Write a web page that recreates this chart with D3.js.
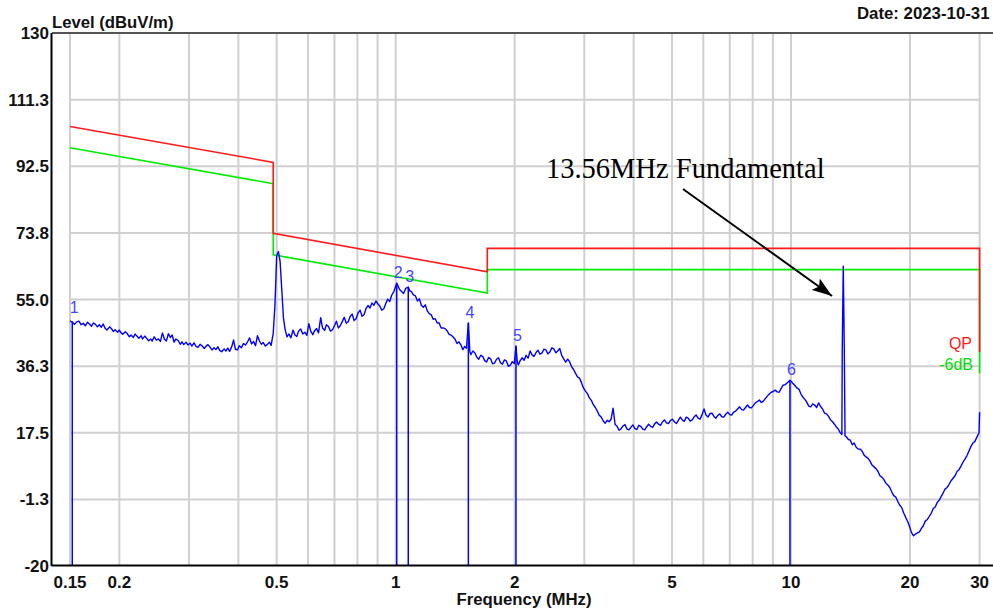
<!DOCTYPE html>
<html><head><meta charset="utf-8">
<script src="https://cdn.jsdelivr.net/npm/d3@7"></script>
<style>
html,body{margin:0;padding:0;background:#fff;overflow:hidden}
svg{display:block}
</style></head><body>
<svg id="chart" width="993" height="608"></svg>
<script>
// Measured spectrum: [frequency MHz, level dBuV/m]
const spectrum = [
  [0.150,49.0],[0.152,48.6],[0.154,48.0],[0.156,48.7],[0.158,48.9],[0.160,47.9],[0.162,48.3],[0.164,47.6],[0.166,48.6],[0.168,48.1],
  [0.170,47.5],[0.172,48.4],[0.174,48.0],[0.176,47.3],[0.178,47.9],[0.180,47.2],[0.182,48.1],[0.184,46.9],[0.186,46.4],[0.189,47.3],
  [0.191,46.8],[0.193,46.0],[0.195,46.5],[0.198,45.8],[0.200,46.4],[0.202,45.6],[0.204,45.2],[0.207,45.9],[0.209,45.5],[0.212,44.5],
  [0.214,45.0],[0.217,44.3],[0.219,45.3],[0.222,44.6],[0.224,44.1],[0.227,44.8],[0.229,43.9],[0.232,44.7],[0.234,44.2],[0.237,43.4],
  [0.240,43.9],[0.242,43.3],[0.245,44.5],[0.248,43.6],[0.251,43.9],[0.254,43.2],[0.257,45.6],[0.260,43.8],[0.263,43.3],[0.266,45.4],
  [0.269,44.3],[0.272,45.0],[0.275,43.0],[0.278,43.9],[0.282,43.4],[0.285,42.4],[0.288,43.1],[0.291,42.3],[0.295,43.0],[0.298,42.2],
  [0.302,42.7],[0.305,41.9],[0.309,42.8],[0.312,41.9],[0.316,41.5],[0.320,42.4],[0.324,41.9],[0.328,41.2],[0.331,41.8],[0.335,42.3],
  [0.339,41.6],[0.343,40.8],[0.347,41.4],[0.351,40.9],[0.355,41.7],[0.359,40.6],[0.363,40.3],[0.368,41.1],[0.372,40.5],[0.376,41.3],
  [0.380,40.4],[0.385,41.8],[0.389,43.6],[0.393,41.0],[0.398,40.8],[0.402,42.0],[0.407,41.4],[0.412,42.6],[0.417,42.2],[0.422,43.1],
  [0.427,44.2],[0.432,42.5],[0.437,43.2],[0.442,42.0],[0.447,44.8],[0.452,43.4],[0.457,42.4],[0.462,42.9],[0.468,41.9],[0.473,42.3],
  [0.479,43.0],[0.484,42.1],[0.490,45.5],[0.495,53.6],[0.500,67.4],[0.505,68.5],[0.510,65.7],[0.515,57.8],[0.520,49.9],[0.525,46.6],
  [0.531,44.5],[0.537,45.3],[0.543,44.2],[0.550,46.4],[0.556,45.0],[0.562,44.6],[0.568,46.1],[0.575,46.7],[0.582,45.3],[0.589,45.8],
  [0.596,44.9],[0.603,48.2],[0.610,46.0],[0.617,45.1],[0.624,46.3],[0.631,46.8],[0.638,45.6],[0.646,49.9],[0.653,47.0],[0.661,46.3],
  [0.668,47.9],[0.676,47.4],[0.684,46.1],[0.692,46.5],[0.700,47.6],[0.708,48.9],[0.716,47.0],[0.724,47.6],[0.732,48.7],[0.741,50.0],
  [0.750,48.3],[0.759,48.8],[0.767,50.2],[0.776,50.9],[0.785,49.1],[0.794,49.6],[0.803,51.2],[0.813,52.0],[0.822,50.3],[0.832,50.8],
  [0.841,52.4],[0.851,53.3],[0.861,52.6],[0.871,54.0],[0.881,53.4],[0.891,54.6],[0.901,53.8],[0.912,53.1],[0.922,52.0],[0.933,52.4],
  [0.944,53.9],[0.955,55.1],[0.966,54.4],[0.977,56.2],[0.990,57.3],[1.006,59.6],[1.023,57.8],[1.047,56.7],[1.060,58.1],[1.076,58.5],
  [1.086,57.4],[1.096,57.2],[1.109,56.3],[1.122,56.0],[1.135,54.6],[1.148,55.2],[1.161,53.4],[1.175,52.8],[1.188,53.5],[1.202,51.8],
  [1.216,51.0],[1.230,50.7],[1.245,49.4],[1.259,49.6],[1.274,48.4],[1.288,48.4],[1.303,47.0],[1.318,47.0],[1.334,46.8],[1.349,46.2],
  [1.365,45.2],[1.380,45.0],[1.396,44.5],[1.413,43.8],[1.429,42.6],[1.445,43.1],[1.462,42.2],[1.479,40.9],[1.495,41.8],[1.510,41.3],
  [1.527,48.4],[1.540,40.4],[1.549,39.5],[1.567,40.5],[1.585,40.0],[1.603,38.8],[1.622,38.2],[1.641,39.3],[1.660,39.0],[1.679,37.8],
  [1.698,37.4],[1.718,38.7],[1.738,38.3],[1.758,36.9],[1.778,37.1],[1.799,38.2],[1.820,38.6],[1.841,37.2],[1.862,36.8],[1.884,38.0],
  [1.905,37.7],[1.928,36.2],[1.950,36.5],[1.972,37.5],[1.995,37.0],[2.015,41.9],[2.030,37.6],[2.042,36.6],[2.065,37.8],[2.089,38.6],
  [2.113,37.9],[2.138,39.3],[2.163,38.5],[2.188,40.5],[2.213,39.4],[2.239,39.0],[2.265,40.1],[2.291,40.7],[2.317,39.6],[2.344,39.9],
  [2.371,41.0],[2.399,40.8],[2.427,39.7],[2.455,40.2],[2.483,41.4],[2.512,41.1],[2.541,40.0],[2.570,40.5],[2.600,41.2],[2.630,39.3],
  [2.661,38.3],[2.692,37.4],[2.723,38.2],[2.754,37.5],[2.786,36.1],[2.818,35.3],[2.851,34.2],[2.884,33.2],[2.917,32.9],[2.951,31.6],
  [2.985,30.1],[3.020,29.2],[3.055,28.5],[3.090,27.3],[3.126,26.6],[3.162,25.4],[3.199,24.6],[3.236,23.6],[3.273,22.4],[3.311,21.9],
  [3.350,20.8],[3.388,20.2],[3.428,21.0],[3.467,20.6],[3.507,21.3],[3.548,24.4],[3.590,19.8],[3.631,19.3],[3.673,18.2],[3.715,18.6],
  [3.758,19.4],[3.802,19.8],[3.846,18.6],[3.890,18.3],[3.935,19.0],[3.981,19.7],[4.027,18.7],[4.074,18.4],[4.121,19.6],[4.169,19.3],
  [4.217,18.5],[4.266,18.3],[4.315,19.2],[4.365,19.9],[4.416,19.3],[4.467,19.0],[4.519,20.0],[4.571,20.5],[4.624,19.9],[4.677,19.6],
  [4.732,20.6],[4.786,21.1],[4.842,20.3],[4.898,20.1],[4.955,21.0],[5.012,21.3],[5.070,20.6],[5.129,20.1],[5.188,21.0],[5.248,21.9],
  [5.309,21.1],[5.370,20.7],[5.433,21.9],[5.495,21.6],[5.559,20.8],[5.623,21.1],[5.689,22.0],[5.754,22.5],[5.821,21.6],[5.888,21.3],
  [5.957,22.6],[6.026,24.2],[6.095,22.5],[6.166,21.9],[6.237,22.9],[6.310,23.0],[6.383,22.1],[6.457,21.6],[6.531,22.4],[6.607,22.8],
  [6.683,22.0],[6.761,21.9],[6.839,22.7],[6.918,23.3],[6.998,22.6],[7.079,22.5],[7.161,23.3],[7.244,23.6],[7.328,24.2],[7.413,24.8],
  [7.499,24.0],[7.586,23.9],[7.674,24.6],[7.762,25.3],[7.852,24.6],[7.943,24.5],[8.035,25.2],[8.128,25.9],[8.222,26.3],[8.318,26.7],
  [8.414,26.0],[8.511,26.4],[8.610,27.1],[8.710,27.8],[8.810,28.4],[8.913,28.9],[9.016,29.1],[9.120,29.5],[9.226,29.0],[9.333,28.9],
  [9.441,29.9],[9.550,30.9],[9.660,31.0],[9.772,31.5],[9.940,32.3],[10.23,30.8],[10.35,30.1],[10.47,29.8],[10.60,28.4],[10.72,27.5],
  [10.84,26.9],[10.96,26.1],[11.09,25.0],[11.22,24.8],[11.35,25.6],[11.48,25.3],[11.61,24.6],[11.75,25.9],[11.88,24.9],[12.02,24.2],
  [12.16,23.0],[12.30,22.8],[12.45,22.1],[12.59,21.1],[12.74,20.6],[12.88,19.9],[13.03,19.1],[13.18,18.5],[13.30,17.6],[13.45,17.0],
  [13.48,41.2],[13.56,64.4],[13.64,41.2],[13.70,16.6],[13.80,16.4],[13.97,15.6],[14.13,15.4],[14.29,14.1],[14.45,14.6],[14.62,13.4],
  [14.79,12.9],[14.96,12.9],[15.14,12.3],[15.31,11.2],[15.49,10.7],[15.67,10.3],[15.85,9.5],[16.03,8.4],[16.22,7.9],[16.41,7.4],
  [16.60,6.6],[16.79,5.4],[16.98,5.0],[17.18,4.3],[17.38,3.3],[17.58,2.8],[17.78,2.1],[17.99,0.8],[18.20,-0.2],[18.41,-0.6],
  [18.62,-1.8],[18.84,-2.9],[19.05,-3.5],[19.27,-5.0],[19.50,-6.3],[19.72,-7.4],[19.95,-8.9],[20.18,-10.6],[20.42,-11.5],[20.65,-11.0],
  [20.89,-10.7],[21.13,-10.4],[21.38,-9.4],[21.63,-8.6],[21.88,-7.3],[22.13,-6.9],[22.39,-6.0],[22.65,-5.1],[22.91,-3.8],[23.17,-3.4],
  [23.44,-2.1],[23.71,-1.5],[23.99,-0.4],[24.27,0.6],[24.55,1.7],[24.83,2.1],[25.12,3.0],[25.41,4.0],[25.70,4.7],[26.00,5.4],
  [26.30,6.6],[26.61,7.1],[26.92,8.1],[27.23,9.2],[27.54,10.1],[27.86,11.0],[28.18,12.3],[28.51,13.6],[28.84,14.6],[29.17,15.0],
  [29.51,16.2],[29.90,17.5],[30.00,23.3]
];

// Peak markers
const markerFreq = [0.152, 1.006, 1.076, 1.527, 2.015, 9.94];
const markerLevel = [48.9, 59.6, 58.5, 48.4, 41.9, 32.3];
const markerLabel = ["1", "2", "3", "4", "5", "6"];

// Limit lines
const limitFreq = [0.15, 0.49, 0.49, 1.705, 1.705, 30, 30];
const limitQP   = [103.7, 93.6, 73.6, 62.8, 69.4, 69.4, 40.2];
const limit6dB  = [97.7, 87.6, 67.6, 56.8, 63.4, 63.4, 34.2];

// Axes
const yTicks = [-20, -1.25, 17.5, 36.25, 55, 73.75, 92.5, 111.25, 130];
const yTickLabels = ["-20", "-1.3", "17.5", "36.3", "55.0", "73.8", "92.5", "111.3", "130"];
const xTickValues = [0.15, 0.2, 0.5, 1, 2, 5, 10, 20, 30];
const xTickLabels = ["0.15", "0.2", "0.5", "1", "2", "5", "10", "20", "30"];
const xGridValues = [0.15, 0.2, 0.3, 0.4, 0.5, 0.6, 0.7, 0.8, 0.9, 1, 2, 3, 4, 5, 6, 7, 8, 9, 10, 20, 30];

const svg = d3.select("#chart");
const W = 993;
const frameLeft = 52, plotLeft = 70, plotRight = 979.6, plotTop = 33, plotBottom = 566;

const x = d3.scaleLog().domain([0.15, 30]).range([plotLeft, plotRight]);
const y = d3.scaleLinear().domain([-20, 130]).range([plotBottom, plotTop]);

const sans = "'Liberation Sans', Arial, sans-serif";

// Grid
const grid = svg.append("g").attr("stroke", "#d0d0d0").attr("stroke-width", 2);
grid.selectAll("line.v").data(xGridValues).join("line")
  .attr("class", "v")
  .attr("x1", d => x(d)).attr("x2", d => x(d))
  .attr("y1", plotTop).attr("y2", plotBottom);
grid.selectAll("line.h").data(yTicks.slice(1, -1)).join("line")
  .attr("class", "h")
  .attr("x1", plotLeft).attr("x2", plotRight)
  .attr("y1", d => y(d)).attr("y2", d => y(d));

const line = d3.line().x(d => x(d[0])).y(d => y(d[1]));

// Limit lines
svg.append("path")
  .attr("d", line(limitFreq.map((f, i) => [f, limit6dB[i]])))
  .attr("fill", "none").attr("stroke", "#00ee00").attr("stroke-width", 1.6);
svg.append("path")
  .attr("d", line(limitFreq.map((f, i) => [f, limitQP[i]])))
  .attr("fill", "none").attr("stroke", "#ff1a1a").attr("stroke-width", 1.6);

// Spectrum trace
svg.append("path")
  .attr("d", line(spectrum))
  .attr("fill", "none").attr("stroke", "#0000ff").attr("stroke-width", 1.4)
  .attr("stroke-linejoin", "round");

// Markers
const mk = svg.append("g");
mk.selectAll("line").data(markerFreq).join("line")
  .attr("x1", d => x(d)).attr("x2", d => x(d))
  .attr("y1", (d, i) => y(markerLevel[i])).attr("y2", plotBottom)
  .attr("stroke", "#0000ff").attr("stroke-width", 1.5);
mk.selectAll("text").data(markerFreq).join("text")
  .attr("x", (d, i) => x(d) + (i === 0 ? 2 : 1.5))
  .attr("y", (d, i) => y(markerLevel[i]) - (i === 0 ? 8 : 5))
  .attr("text-anchor", "middle")
  .attr("font-family", sans).attr("font-size", 16)
  .attr("fill", "#4646ff")
  .text((d, i) => markerLabel[i]);

// Frame
svg.append("line").attr("x1", frameLeft).attr("x2", W).attr("y1", plotTop).attr("y2", plotTop)
  .attr("stroke", "#555").attr("stroke-width", 2);
svg.append("line").attr("x1", frameLeft - 0.5).attr("x2", W).attr("y1", plotBottom - 0.5).attr("y2", plotBottom - 0.5)
  .attr("stroke", "#000").attr("stroke-width", 2);
svg.append("line").attr("x1", frameLeft - 0.5).attr("x2", frameLeft - 0.5).attr("y1", plotTop).attr("y2", plotBottom)
  .attr("stroke", "#000").attr("stroke-width", 2);

// Y tick labels
svg.append("g").selectAll("text").data(yTicks).join("text")
  .attr("x", 49).attr("y", d => y(d) + 6)
  .attr("text-anchor", "end")
  .attr("font-family", sans).attr("font-weight", "bold").attr("font-size", 17)
  .attr("fill", "#111")
  .text((d, i) => yTickLabels[i]);

// X tick labels
svg.append("g").selectAll("text").data(xTickValues).join("text")
  .attr("x", d => x(d)).attr("y", 587.5)
  .attr("text-anchor", "middle")
  .attr("font-family", sans).attr("font-weight", "bold").attr("font-size", 17)
  .attr("fill", "#111")
  .text((d, i) => xTickLabels[i]);

// Titles
svg.append("text").attr("x", 52).attr("y", 27.5)
  .attr("font-family", sans).attr("font-weight", "bold").attr("font-size", 16.7)
  .attr("fill", "#111").text("Level (dBuV/m)");
svg.append("text").attr("x", 524).attr("y", 604.5)
  .attr("text-anchor", "middle")
  .attr("font-family", sans).attr("font-weight", "bold").attr("font-size", 16.8)
  .attr("fill", "#111").text("Frequency (MHz)");
svg.append("text").attr("x", 857).attr("y", 18.5)
  .attr("font-family", sans).attr("font-weight", "bold").attr("font-size", 16.8)
  .attr("fill", "#111").text("Date: 2023-10-31");

// Limit labels
svg.append("text").attr("x", 972).attr("y", 349)
  .attr("text-anchor", "end")
  .attr("font-family", sans).attr("font-size", 16)
  .attr("fill", "#ff1a1a").text("QP");
svg.append("text").attr("x", 973).attr("y", 370)
  .attr("text-anchor", "end")
  .attr("font-family", sans).attr("font-size", 16)
  .attr("fill", "#00dd00").text("-6dB");

// Annotation of the 13.56 MHz carrier
svg.append("defs").append("marker")
  .attr("id", "arrowHead")
  .attr("viewBox", "0 0 20 14")
  .attr("refX", 20).attr("refY", 7)
  .attr("markerWidth", 20).attr("markerHeight", 14)
  .attr("markerUnits", "userSpaceOnUse")
  .attr("orient", "auto")
  .append("path").attr("d", "M0,0 L20,7 L0,14 L4,7 Z").attr("fill", "#000");

svg.append("line")
  .attr("x1", x(5.33)).attr("y1", y(86.1))
  .attr("x2", x(12.7)).attr("y2", y(56.0))
  .attr("stroke", "#000").attr("stroke-width", 2)
  .attr("marker-end", "url(#arrowHead)");
svg.append("text").attr("x", x(2.40)).attr("y", y(89.2))
  .attr("font-family", "'Liberation Serif', 'Times New Roman', serif").attr("font-size", 28.5)
  .attr("fill", "#000").text("13.56MHz Fundamental");
</script>
</body></html>
